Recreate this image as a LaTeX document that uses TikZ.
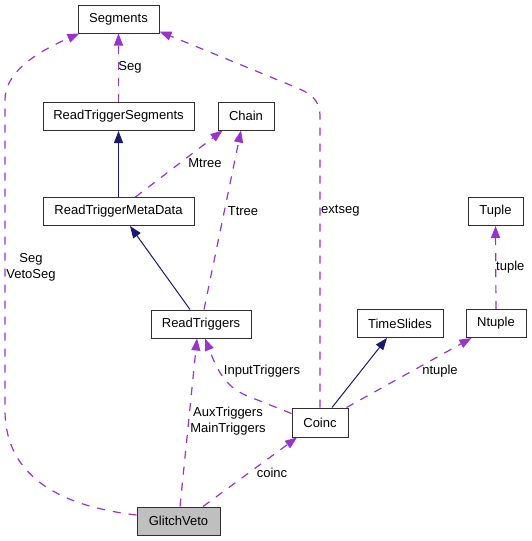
\documentclass[tikz,border=0pt]{standalone}
\usepackage{fontspec}
\setmainfont{Liberation Sans}
\usetikzlibrary{arrows.meta,calc}
\definecolor{edgepurple}{HTML}{9A32CD}
\definecolor{edgenavy}{HTML}{191970}
\definecolor{boxgray}{HTML}{BFBFBF}
\definecolor{boxline}{HTML}{303030}
\begin{document}
\begin{tikzpicture}[x=1pt,y=-1pt,
  cls/.style={draw=boxline,line width=1pt,fill=white,inner sep=0pt,minimum height=28pt,font=\fontsize{13}{14}\selectfont},
  hl/.style={cls,fill=boxgray},
  usage/.style={draw=edgepurple,line width=1.2pt,dash pattern=on 8pt off 8pt,-{Triangle[length=12pt,width=9pt]}},
  inherit/.style={draw=edgenavy,line width=1pt,-{Triangle[length=12pt,width=9pt]}},
  lbl/.style={inner sep=0pt,font=\fontsize{13}{16}\selectfont,align=center}]
\useasboundingbox (0,0) rectangle (531,541);
\fill[white] (0,0) rectangle (531,541);
% nodes
\node[cls,minimum width=81pt] (Seg) at (118.5,19) {Segments};
\node[cls,minimum width=151pt] (RTS) at (118.5,116.5) {ReadTriggerSegments};
\node[cls,minimum width=56pt] (Chain) at (246,116) {Chain};
\node[cls,minimum width=151pt] (RTMD) at (118.5,211.5) {ReadTriggerMetaData};
\node[cls,minimum width=55pt] (Tuple) at (495.5,211.5) {Tuple};
\node[cls,minimum width=100pt] (RT) at (201,324) {ReadTriggers};
\node[cls,minimum width=86pt] (TS) at (400,323.5) {TimeSlides};
\node[cls,minimum width=60pt] (Ntuple) at (496,323.5) {Ntuple};
\node[cls,minimum width=56pt,minimum height=29pt] (Coinc) at (320,422.5) {Coinc};
\node[hl,minimum width=83pt] (GV) at (178.5,521) {GlitchVeto};
% edges
\draw[usage] (RTS.north) -- (Seg.south);
\node[lbl] (lSeg) at (130,67) {Seg};
\draw[inherit] (RTMD.north) -- (RTS.south);
\draw[usage] ($(RTMD.north)+(17,0)$) -- ($(Chain.south west)+(5,0)$);
\node[lbl] (lMtree) at (205,163) {Mtree};
\draw[inherit] ($(RT.north)+(-11,0)$) -- ($(RTMD.south)+(11.5,0)$);
\draw[usage] ($(RT.north)+(3,0)$) -- ($(Chain.south)+(-5,0)$);
\node[lbl] (lTtree) at (243,211) {Ttree};
\draw[usage] ($(GV.north)+(1.5,0)$) -- ($(RT.south)+(-4,0)$);
\node[lbl] (lAux) at (228,421.5) {AuxTriggers\\MainTriggers};
\draw[usage] ($(Coinc.west)+(0,-9)$) -- (250,397) .. controls (226,388) and (218,372) .. ($(RT.south)+(4,0)$);
\node[lbl] (lInput) at (262,371) {InputTriggers};
\draw[usage] ($(GV.north)+(24.5,0)$) -- ($(Coinc.south)+(-23,0)$);
\node[lbl] (lcoinc) at (272,473) {coinc};
\draw[inherit] ($(Coinc.north)+(12,0)$) -- ($(TS.south)+(-13,0)$);
\draw[usage] ($(Coinc.north east)+(-2,0)$) -- ($(Ntuple.south west)+(6,0)$);
\node[lbl] (lntuple) at (440,371) {ntuple};
\draw[usage] (Ntuple.north) -- (Tuple.south);
\node[lbl,anchor=west] (ltuple) at (496,267) {tuple};
\draw[usage] (Coinc.north) -- (320,115) .. controls (320,100) and (310,93) .. (295,87) -- ($(Seg.south east)+(0,-2)$);
\node[lbl,anchor=west] (lextseg) at (321,211) {extseg};
\draw[usage] ($(GV.west)+(0,-6)$) .. controls (50,505) and (5,470) .. (5,410) -- (5,100) .. controls (5,75) and (30,55) .. ($(Seg.south west)+(2,0)$);
\node[lbl] (lVeto) at (31,267) {Seg\\VetoSeg};
\end{tikzpicture}
\end{document}
